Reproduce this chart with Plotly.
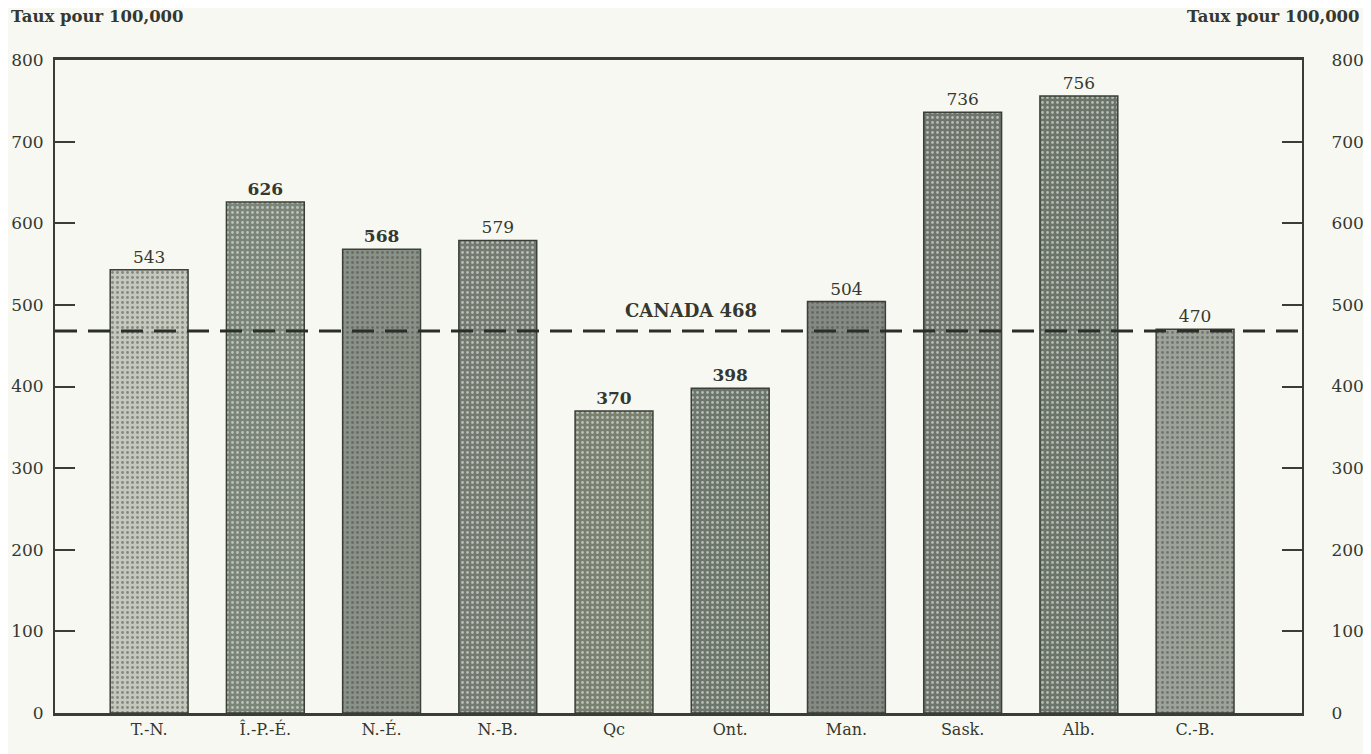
import plotly.graph_objects as go

provinces = ["T.-N.", "Î.-P.-É.", "N.-É.", "N.-B.", "Qc", "Ont.", "Man.", "Sask.", "Alb.", "C.-B."]
rates = [543, 626, 568, 579, 370, 398, 504, 736, 756, 470]
canada_rate = 468
y_ticks = [0, 100, 200, 300, 400, 500, 600, 700, 800]

# heavier labels in the scan
bold_labels = {"Î.-P.-É.", "N.-É.", "Qc", "Ont."}
bar_colors = ["#c4c8bd", "#7a8477", "#8a9187", "#737b71", "#78816f",
              "#6d766a", "#858b83", "#6e766c", "#6b7469", "#9ea39a"]

ink = "#34382f"
serif = "DejaVu Serif, Liberation Serif, serif"

labels = [f"<b>{v}</b>" if p in bold_labels else str(v) for p, v in zip(provinces, rates)]

fig = go.Figure()
fig.add_trace(go.Bar(
    x=list(range(len(provinces))), y=rates,
    width=0.67,
    marker=dict(color=bar_colors, line=dict(color="#3a3f37", width=1.5),
                pattern=dict(shape=".", fgcolor="#dfe2d8", size=5, solidity=0.25)),
    text=labels, textposition="outside", cliponaxis=False,
    textfont=dict(family=serif, size=17, color=ink),
    showlegend=False,
))
# invisible trace to carry the right-hand axis
fig.add_trace(go.Scatter(x=[0], y=[0], yaxis="y2", mode="markers",
                         marker=dict(opacity=0), showlegend=False, hoverinfo="skip"))

fig.add_hline(y=canada_rate, line=dict(color="#2b2e28", width=3, dash="22px,11px"))
fig.add_annotation(x=4.66, y=canada_rate, yshift=21, text=f"<b>CANADA {canada_rate}</b>",
                   showarrow=False, font=dict(family=serif, size=18, color=ink))

fig.add_annotation(xref="paper", yref="paper", x=-0.037, y=1.066, xanchor="left", yanchor="middle",
                   text="<b>Taux pour 100,000</b>", showarrow=False,
                   font=dict(family=serif, size=16.5, color=ink))
fig.add_annotation(xref="paper", yref="paper", x=1.048, y=1.066, xanchor="right", yanchor="middle",
                   text="<b>Taux pour 100,000</b>", showarrow=False,
                   font=dict(family=serif, size=16.5, color=ink))

fig.update_layout(
    width=1363, height=746,
    margin=dict(l=47, r=69, t=52, b=41),
    paper_bgcolor="#f8f8f3", plot_bgcolor="#f8f8f3",
    xaxis=dict(range=[-0.81, 9.92], tickvals=list(range(len(provinces))), ticktext=provinces,
               showgrid=False, zeroline=False, showline=True, mirror=True,
               linecolor="#3a3d36", linewidth=2.5, ticks="", automargin=False,
               tickfont=dict(family=serif, size=16, color=ink)),
    yaxis=dict(range=[0, 800], tickvals=y_ticks, showgrid=False, zeroline=False,
               showline=True, linecolor="#3a3d36", linewidth=2, automargin=False,
               ticks="inside", ticklen=20, tickwidth=2, tickcolor="#3a3d36",
               ticklabelstandoff=6,
               tickfont=dict(family=serif, size=17, color=ink)),
    yaxis2=dict(range=[0, 800], tickvals=y_ticks, overlaying="y", side="right",
                showgrid=False, zeroline=False, showline=True, automargin=False,
                linecolor="#3a3d36", linewidth=2,
                ticks="inside", ticklen=20, tickwidth=1.5, tickcolor="#3a3d36",
                ticklabelstandoff=24,
                tickfont=dict(family=serif, size=17, color=ink)),
)

fig.write_html("out.html")
